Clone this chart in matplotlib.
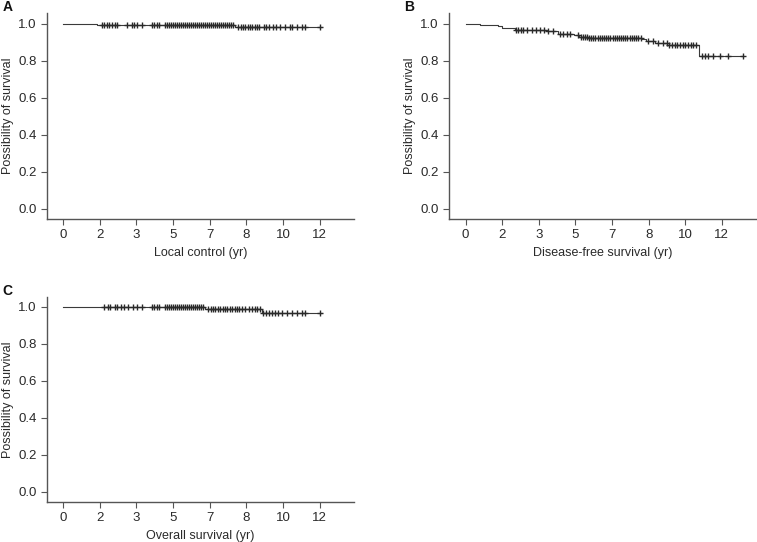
import matplotlib
matplotlib.use('Agg')
from matplotlib import pyplot as plt

plt.rcParams['font.family'] = ['Liberation Sans', 'DejaVu Sans']

# x values are months, labelled in (rounded) years
tick_months = [0, 20, 40, 60, 80, 100, 120, 140]
tick_labels = ['0', '2', '3', '5', '7', '8', '10', '12']
y_ticks = [0.0, 0.2, 0.4, 0.6, 0.8, 1.0]

# Panel A - local control
a_times = [0, 3.8, 18.3, 93.7, 141.0]
a_surv = [1.0, 0.998, 0.995, 0.982, 0.982]
a_cens = [21.1, 22.3, 23.8, 25.3, 26.7, 28.2, 29.7, 34.7, 37.4, 38.7, 40.1, 42.9,
          48.3, 49.6, 51.1, 52.5, 55.6, 56.7, 57.8, 58.9, 60.0, 61.0, 62.1, 63.2,
          64.3, 65.4, 66.5, 67.6, 68.7, 69.8, 70.9, 72.0, 73.1, 74.2, 75.3, 76.4,
          77.5, 78.6, 79.7, 80.8, 81.9, 83.0, 84.1, 85.2, 86.3, 87.4, 88.5, 89.6,
          90.7, 91.8, 92.9, 95.6, 96.9, 98.1, 99.4, 100.7, 101.9, 103.2, 104.5,
          105.8, 107.0, 109.6, 110.8, 112.1, 114.6, 115.9, 118.4, 121.0, 123.5,
          125.0, 127.4, 130.0, 131.9, 140.0]

# Panel B - disease-free survival
b_times = [0, 3.3, 7.8, 17.9, 19.8, 27.0, 44.2, 50.6, 59.0, 61.7, 67.2, 96.1,
           98.8, 103.4, 110.1, 127.5, 151.7]
b_surv = [1.0, 0.998, 0.995, 0.986, 0.977, 0.968, 0.959, 0.944, 0.939, 0.930,
          0.923, 0.917, 0.905, 0.899, 0.886, 0.827, 0.827]
b_cens = [27.5, 28.7, 30.1, 31.5, 33.4, 36.1, 38.7, 40.6, 42.8, 45.2, 48.0, 51.6,
          53.4, 55.2, 57.1, 61.6, 62.8, 63.9, 65.1, 66.3, 67.4, 68.6, 69.8, 70.9,
          72.1, 73.3, 74.4, 75.6, 76.8, 77.9, 79.1, 80.3, 81.4, 82.6, 83.8, 84.9,
          86.1, 87.3, 88.4, 89.6, 90.8, 91.9, 93.1, 94.3, 95.7, 99.8, 102.6, 105.2,
          108.0, 109.8, 111.3, 112.7, 114.2, 115.6, 117.1, 118.5, 120.1, 121.6,
          123.0, 124.5, 126.0, 128.9, 130.7, 132.5, 135.3, 138.8, 143.5, 151.7]

# Panel C - overall survival
c_times = [0, 22.0, 77.4, 108.3, 141.0]
c_surv = [1.0, 0.998, 0.986, 0.966, 0.966]
c_cens = [22.1, 24.3, 25.6, 28.3, 29.7, 31.4, 33.3, 35.6, 38.3, 40.1, 42.9, 48.3,
          49.6, 51.1, 52.5, 55.6, 56.7, 57.8, 58.9, 60.0, 61.0, 62.1, 63.2, 64.3,
          65.4, 66.5, 67.6, 68.7, 69.8, 70.9, 72.0, 73.1, 74.2, 75.3, 76.4, 79.2,
          80.5, 81.8, 83.1, 84.4, 85.7, 87.0, 88.3, 89.6, 90.9, 92.2, 93.5, 94.8,
          96.1, 97.4, 99.0, 101.5, 103.0, 104.5, 106.0, 107.3, 109.2, 110.8, 112.4,
          114.0, 115.6, 117.2, 119.5, 122.0, 125.0, 127.4, 130.0, 131.9, 140.0]


def surv_at(times, surv, t):
    v = surv[0]
    for ti, si in zip(times, surv):
        if ti <= t:
            v = si
    return v


W, H = 757, 542
fig = plt.figure(figsize=(W / 100, H / 100), dpi=100)


def make_axes(left, right, top, bottom):
    return fig.add_axes([left / W, (H - bottom) / H, (right - left) / W, (bottom - top) / H])


line_col = '#3a3a3a'
axis_col = '#555555'
text_col = '#2a2a2a'

panels = [
    ('A', (47, 354, 13, 219), (-8.7, 158.6), (-0.056, 1.059), a_times, a_surv, a_cens, 'Local control (yr)'),
    ('B', (449, 757, 13, 219), (-9.1, 159.2), (-0.056, 1.059), b_times, b_surv, b_cens, 'Disease-free survival (yr)'),
    ('C', (47, 354, 297, 502), (-8.7, 158.6), (-0.054, 1.052), c_times, c_surv, c_cens, 'Overall survival (yr)'),
]

for letter, box, xl, yl, times, surv, cens, xlabel in panels:
    ax = make_axes(*box)
    ax.step(times, surv, where='post', color=line_col, lw=0.8)
    ax.plot(cens, [surv_at(times, surv, t) for t in cens], '+', color='#2a2a2a',
            markersize=4, markeredgewidth=1.0)
    ax.set_xlim(*xl)
    ax.set_ylim(*yl)
    ax.set_xticks(tick_months)
    ax.set_xticklabels(tick_labels)
    ax.set_yticks(y_ticks)
    ax.set_yticklabels(['%.1f' % v for v in y_ticks])
    for s in ['top', 'right']:
        ax.spines[s].set_visible(False)
    for s in ['left', 'bottom']:
        ax.spines[s].set_color(axis_col)
        ax.spines[s].set_linewidth(1.0)
    ax.tick_params(colors=axis_col, labelcolor=text_col, labelsize=9.5, length=4, width=0.8)
    ax.set_xlabel(xlabel, fontsize=9, color=text_col, labelpad=4)
    ax.set_ylabel('Possibility of survival', fontsize=9, color=text_col, labelpad=3)
    ax.text(-0.145, 1.03, letter, transform=ax.transAxes, fontsize=10, fontweight='bold',
            color='#111111', ha='left', va='center')

fig.savefig('out.png', dpi=100)
